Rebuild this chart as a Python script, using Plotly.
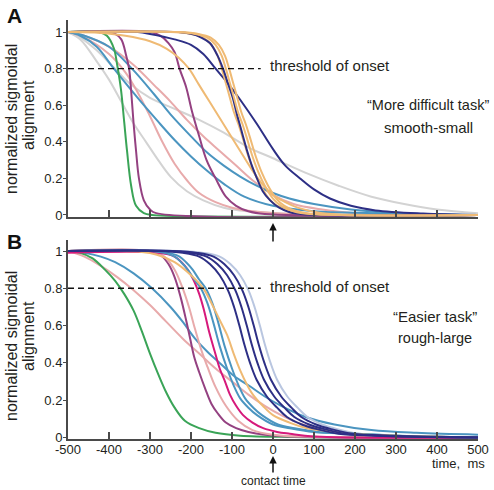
import plotly.graph_objects as go

# ---------------- data ----------------
TICK_TIMES = [-500, -400, -300, -200, -100, 0, 100, 200, 300, 400, 500]
TICK_LABELS = ["-500", "-400", "-300", "-200", "-100", "0", "100", "200", "300", "400", "500"]
Y_TICKS = [0, 0.2, 0.4, 0.6, 0.8, 1]
Y_LABELS = ["0", "0.2", "0.4", "0.6", "0.8", "1"]
THRESHOLD = 0.8
THRESHOLD_LINE_T = [-500, -30]
CONTACT_TIME = 0

# colours
GREEN = "#3aa457"
PURPLE = "#944181"
BLUE = "#4b95c0"
GRAY = "#d3d3d3"
PINK = "#e8aaab"
NAVY = "#2d2f85"
ORANGE = "#efba74"
MAGENTA = "#d6197b"
LIGHTBLUE = "#b9c6e0"

# ---- panel A : "More difficult task" smooth-small ----
A_gray1_t = [-500, -470, -430, -400, -370, -340, -310, -280, -250, -210, -170, -120, -60, 50, 500]
A_gray1_y = [1, 0.96, 0.84, 0.74, 0.62, 0.5, 0.4, 0.3, 0.21, 0.13, 0.08, 0.04, 0.02, 0.005, 0]
A_gray2_t = [-500, -470, -430, -390, -350, -300, -240, -180, -120, -60, 0, 80, 160, 240, 320, 400, 500]
A_gray2_y = [1, 0.97, 0.9, 0.81, 0.72, 0.64, 0.58, 0.52, 0.45, 0.37, 0.31, 0.23, 0.16, 0.1, 0.06, 0.03, 0.01]
A_pink1_t = [-500, -460, -400, -360, -330, -300, -270, -240, -210, -180, -140, -100, -50, 50, 500]
A_pink1_y = [1, 0.97, 0.88, 0.78, 0.67, 0.54, 0.4, 0.28, 0.19, 0.12, 0.07, 0.04, 0.02, 0.005, 0]
A_pink2_t = [-500, -460, -400, -340, -290, -250, -210, -170, -130, -90, -50, 0, 50, 120, 200, 500]
A_pink2_y = [1, 0.98, 0.92, 0.82, 0.71, 0.62, 0.52, 0.43, 0.35, 0.27, 0.19, 0.11, 0.06, 0.03, 0.01, 0]
A_blue1_t = [-500, -470, -430, -388, -330, -280, -240, -200, -160, -120, -70, 0, 100, 250, 500]
A_blue1_y = [1, 0.98, 0.92, 0.8, 0.64, 0.51, 0.41, 0.32, 0.24, 0.17, 0.1, 0.05, 0.02, 0.01, 0]
A_blue2_t = [-500, -460, -400, -344, -290, -250, -200, -160, -120, -80, -40, 0, 40, 100, 190, 300, 500]
A_blue2_y = [1, 0.98, 0.92, 0.8, 0.66, 0.55, 0.43, 0.34, 0.27, 0.21, 0.16, 0.12, 0.09, 0.06, 0.03, 0.01, 0]
A_green_t = [-500, -425, -405, -388, -380, -371, -363, -356, -346, -334, -315, -295, 500]
A_green_y = [1, 1, 0.98, 0.91, 0.82, 0.69, 0.51, 0.35, 0.16, 0.05, 0.01, 0, 0]
A_purple1_t = [-500, -410, -385, -370, -358, -351, -346, -340, -334, -327, -315, -300, -285, 500]
A_purple1_y = [1, 1, 0.99, 0.96, 0.87, 0.8, 0.68, 0.5, 0.35, 0.2, 0.08, 0.03, 0.01, 0]
A_purple2_t = [-500, -300, -275, -255, -240, -228, -212, -198, -180, -162, -140, -115, -90, -60, -20, 500]
A_purple2_y = [1, 1, 0.98, 0.94, 0.89, 0.8, 0.7, 0.57, 0.43, 0.3, 0.2, 0.1, 0.05, 0.02, 0.005, 0]
A_orange1_t = [-500, -420, -360, -300, -260, -230, -205, -180, -155, -130, -105, -80, -55, -30, 0, 30, 60, 120, 500]
A_orange1_y = [1, 0.995, 0.98, 0.95, 0.91, 0.86, 0.8, 0.71, 0.62, 0.53, 0.44, 0.35, 0.26, 0.18, 0.11, 0.07, 0.04, 0.01, 0]
A_navy1_t = [-500, -330, -300, -240, -200, -170, -140, -110, -80, -40, 0, 30, 66, 100, 139, 190, 250, 366, 500]
A_navy1_y = [1, 1, 0.99, 0.96, 0.93, 0.88, 0.8, 0.72, 0.63, 0.5, 0.36, 0.27, 0.2, 0.14, 0.09, 0.05, 0.025, 0.008, 0]
A_orange2_t = [-500, -250, -200, -170, -150, -135, -125, -115, -105, -95, -85, -75, -60, -45, -30, -10, 10, 40, 80, 500]
A_orange2_y = [1, 1, 0.99, 0.97, 0.93, 0.87, 0.8, 0.72, 0.64, 0.56, 0.5, 0.43, 0.32, 0.23, 0.16, 0.09, 0.05, 0.02, 0.005, 0]
A_navy2_t = [-500, -230, -200, -175, -154, -135, -122, -110, -98, -88, -78, -63, -50, -39, -25, -7, 15, 41, 80, 500]
A_navy2_y = [1, 1, 0.99, 0.97, 0.94, 0.87, 0.8, 0.72, 0.64, 0.55, 0.47, 0.35, 0.26, 0.2, 0.13, 0.08, 0.04, 0.015, 0.003, 0]
A_orange3_t = [-500, -240, -190, -160, -140, -125, -115, -105, -95, -85, -75, -65, -50, -35, -20, 0, 20, 50, 90, 500]
A_orange3_y = [1, 1, 0.99, 0.97, 0.93, 0.87, 0.8, 0.72, 0.64, 0.56, 0.5, 0.43, 0.32, 0.23, 0.16, 0.09, 0.05, 0.02, 0.005, 0]
A_orange4_t = [-500, -230, -182, -152, -132, -117, -107, -97, -87, -77, -67, -57, -42, -27, -12, 8, 28, 58, 100, 500]
A_orange4_y = [1, 1, 0.99, 0.97, 0.93, 0.87, 0.8, 0.72, 0.64, 0.56, 0.5, 0.43, 0.32, 0.23, 0.16, 0.09, 0.05, 0.02, 0.005, 0]

# ---- panel B : "Easier task" rough-large ----
B_pink1_t = [-500, -460, -420, -380, -340, -300, -260, -220, -180, -140, -100, -60, -20, 20, 60, 110, 200, 300, 500]
B_pink1_y = [1, 0.97, 0.92, 0.86, 0.79, 0.71, 0.62, 0.53, 0.45, 0.37, 0.3, 0.23, 0.17, 0.12, 0.08, 0.05, 0.02, 0.01, 0]
B_blue1_t = [-500, -460, -420, -385, -340, -295, -250, -220, -190, -160, -130, -95, -60, -20, 20, 80, 150, 240, 350, 500]
B_blue1_y = [1, 0.99, 0.97, 0.94, 0.88, 0.8, 0.7, 0.62, 0.53, 0.46, 0.4, 0.33, 0.28, 0.22, 0.17, 0.11, 0.07, 0.04, 0.025, 0.015]
B_green_t = [-500, -470, -440, -410, -385, -363, -340, -320, -300, -280, -260, -240, -215, -180, -140, -80, 50, 500]
B_green_y = [1, 0.99, 0.96, 0.9, 0.84, 0.77, 0.68, 0.57, 0.45, 0.34, 0.24, 0.16, 0.09, 0.05, 0.025, 0.01, 0.003, 0]
B_purple_t = [-500, -300, -275, -255, -240, -225, -212, -202, -192, -180, -165, -150, -135, -115, -90, -60, -20, 40, 500]
B_purple_y = [1, 1, 0.98, 0.93, 0.86, 0.75, 0.63, 0.53, 0.43, 0.35, 0.26, 0.18, 0.13, 0.08, 0.05, 0.03, 0.015, 0.005, 0]
B_pink2_t = [-500, -300, -265, -240, -222, -205, -190, -175, -160, -140, -115, -85, -50, 0, 80, 500]
B_pink2_y = [1, 1, 0.97, 0.9, 0.81, 0.7, 0.58, 0.47, 0.38, 0.27, 0.17, 0.09, 0.04, 0.015, 0.005, 0]
B_magenta_t = [-500, -280, -240, -215, -195, -180, -168, -155, -142, -130, -117, -105, -90, -73, -50, -24, 10, 41, 100, 500]
B_magenta_y = [0.99, 0.99, 0.97, 0.92, 0.85, 0.77, 0.68, 0.56, 0.46, 0.37, 0.3, 0.23, 0.17, 0.12, 0.08, 0.05, 0.03, 0.02, 0.005, 0]
B_blue2_t = [-500, -300, -266, -240, -224, -208, -193, -176, -160, -146, -130, -112, -96, -80, -60, -39, 0, 41, 100, 188, 300, 500]
B_blue2_y = [1, 1, 0.99, 0.97, 0.94, 0.9, 0.85, 0.8, 0.72, 0.62, 0.49, 0.37, 0.28, 0.21, 0.16, 0.12, 0.07, 0.05, 0.03, 0.02, 0.01, 0]
B_blue3_t = [-500, -288, -254, -228, -212, -196, -181, -164, -148, -134, -118, -100, -84, -68, -48, -27, 12, 53, 112, 200, 312, 500]
B_blue3_y = [1, 1, 0.99, 0.97, 0.94, 0.9, 0.85, 0.8, 0.72, 0.62, 0.49, 0.37, 0.28, 0.21, 0.16, 0.12, 0.07, 0.05, 0.03, 0.02, 0.01, 0]
B_orange_t = [-500, -320, -283, -240, -200, -170, -150, -130, -112, -96, -80, -65, -49, -25, 0, 40, 83, 130, 188, 300, 500]
B_orange_y = [1, 0.995, 0.98, 0.94, 0.87, 0.8, 0.72, 0.63, 0.55, 0.45, 0.36, 0.29, 0.23, 0.17, 0.12, 0.08, 0.05, 0.035, 0.02, 0.01, 0]
B_navy1_t = [-500, -280, -220, -180, -154, -130, -110, -95, -82, -70, -56, -40, -15, 10, 34, 70, 107, 160, 250, 500]
B_navy1_y = [1, 1, 0.99, 0.97, 0.93, 0.87, 0.79, 0.7, 0.6, 0.5, 0.4, 0.31, 0.22, 0.16, 0.11, 0.07, 0.045, 0.02, 0.01, 0]
B_navy2_t = [-500, -262, -202, -162, -136, -112, -92, -77, -64, -52, -38, -22, 3, 28, 52, 88, 125, 178, 268, 500]
B_navy2_y = [1, 1, 0.99, 0.97, 0.93, 0.87, 0.79, 0.7, 0.6, 0.5, 0.4, 0.31, 0.22, 0.16, 0.11, 0.07, 0.045, 0.02, 0.01, 0]
B_navy3_t = [-500, -245, -185, -145, -119, -95, -75, -60, -47, -35, -21, -5, 20, 45, 69, 105, 142, 195, 285, 500]
B_navy3_y = [1, 1, 0.99, 0.97, 0.93, 0.87, 0.79, 0.7, 0.6, 0.5, 0.4, 0.31, 0.22, 0.16, 0.11, 0.07, 0.045, 0.02, 0.01, 0]
B_light_t = [-500, -230, -170, -130, -104, -80, -60, -45, -32, -20, -6, 10, 35, 60, 84, 120, 157, 210, 300, 500]
B_light_y = [1, 1, 0.99, 0.97, 0.93, 0.87, 0.79, 0.7, 0.6, 0.5, 0.4, 0.31, 0.22, 0.16, 0.11, 0.07, 0.045, 0.02, 0.01, 0]

PANEL_A = [
    (A_gray1_t, A_gray1_y, GRAY), (A_gray2_t, A_gray2_y, GRAY),
    (A_pink1_t, A_pink1_y, PINK), (A_pink2_t, A_pink2_y, PINK),
    (A_blue1_t, A_blue1_y, BLUE), (A_blue2_t, A_blue2_y, BLUE),
    (A_green_t, A_green_y, GREEN),
    (A_purple1_t, A_purple1_y, PURPLE), (A_purple2_t, A_purple2_y, PURPLE),
    (A_orange1_t, A_orange1_y, ORANGE), (A_navy1_t, A_navy1_y, NAVY),
    (A_orange2_t, A_orange2_y, ORANGE), (A_navy2_t, A_navy2_y, NAVY),
    (A_orange3_t, A_orange3_y, ORANGE), (A_orange4_t, A_orange4_y, ORANGE),
]
PANEL_B = [
    (B_pink1_t, B_pink1_y, PINK), (B_blue1_t, B_blue1_y, BLUE),
    (B_green_t, B_green_y, GREEN), (B_purple_t, B_purple_y, PURPLE),
    (B_pink2_t, B_pink2_y, PINK), (B_light_t, B_light_y, LIGHTBLUE),
    (B_magenta_t, B_magenta_y, MAGENTA), (B_blue2_t, B_blue2_y, BLUE),
    (B_blue3_t, B_blue3_y, BLUE), (B_orange_t, B_orange_y, ORANGE),
    (B_navy1_t, B_navy1_y, NAVY), (B_navy2_t, B_navy2_y, NAVY),
    (B_navy3_t, B_navy3_y, NAVY),
]

# ---------------- figure ----------------
W, H = 494, 490
FONT = "Liberation Sans, Arial, Helvetica, sans-serif"
TXT = "#231f20"
AX = "#4a4a4a"


def px_x(p):
    return p / W


def px_y(p):
    return 1 - p / H


fig = go.Figure()

for xa, ya, panel in (("x", "y", PANEL_A), ("x2", "y2", PANEL_B)):
    for t, v, c in panel:
        fig.add_trace(go.Scatter(x=t, y=v, mode="lines", xaxis=xa, yaxis=ya,
                                 line=dict(color=c, width=2, shape="spline", smoothing=1.0),
                                 hoverinfo="skip", showlegend=False))
    fig.add_trace(go.Scatter(x=THRESHOLD_LINE_T, y=[THRESHOLD, THRESHOLD], mode="lines",
                             xaxis=xa, yaxis=ya,
                             line=dict(color="#111", width=1.4, dash="6px,4px"),
                             hoverinfo="skip", showlegend=False))

xcommon = dict(range=[-500, 500], tickvals=TICK_TIMES, ticks="inside", ticklen=7,
               tickwidth=1.5, tickcolor=AX, showline=True, linecolor=AX, linewidth=2,
               showgrid=False, zeroline=False, domain=[px_x(68), px_x(478)],
               automargin=False, ticklabelstandoff=-3,
               tickfont=dict(family=FONT, size=13, color=TXT))
ycommon = dict(tickvals=Y_TICKS, ticktext=Y_LABELS, ticks="outside", ticklen=3,
               tickwidth=1.2, tickcolor=AX, showline=True, linecolor=AX, linewidth=2,
               showgrid=False, zeroline=False, automargin=False, ticklabelstandoff=-2,
               tickfont=dict(family=FONT, size=13, color=TXT))

fig.update_layout(
    width=W, height=H, margin=dict(l=0, r=0, t=0, b=0),
    paper_bgcolor="white", plot_bgcolor="white", showlegend=False,
    xaxis=dict(xcommon, anchor="y", showticklabels=False),
    yaxis=dict(ycommon, anchor="x", range=[-0.011, 1.066], domain=[px_y(217), px_y(20)]),
    xaxis2=dict(xcommon, anchor="y2", ticktext=TICK_LABELS, showticklabels=True),
    yaxis2=dict(ycommon, anchor="x2", range=[-0.008, 1.059], domain=[px_y(439), px_y(240)]),
)


def note(text, x, y, size=16, xanchor="center", angle=0, bold=False):
    fig.add_annotation(text=f"<b>{text}</b>" if bold else text, xref="paper", yref="paper",
                       x=px_x(x), y=px_y(y), xanchor=xanchor, yanchor="middle",
                       showarrow=False, textangle=angle,
                       font=dict(family=FONT, size=size, color="#111" if bold else TXT))


note("A", 14, 15, size=21, bold=True)
note("B", 14, 242, size=21, bold=True)
note("normalized sigmoidal", 11, 119, size=16, angle=-90)
note("alignment", 28, 115, size=16, angle=-90)
note("normalized sigmoidal", 11, 346, size=16, angle=-90)
note("alignment", 28, 336, size=16, angle=-90)
note("threshold of onset", 268, 65, size=15, xanchor="left")
note("threshold of onset", 268, 286, size=15, xanchor="left")
note("\u201cMore difficult task\u201d", 428, 105, size=14.5)
note("smooth-small", 428, 127, size=15)
note("\u201cEasier task\u201d", 435, 316, size=15)
note("rough-large", 435, 338, size=14.5)
note("time,\u00a0\u00a0ms", 487, 463, size=13, xanchor="right")

# contact-time arrows
fig.add_annotation(x=CONTACT_TIME, xref="x", y=px_y(223), yref="paper", text="",
                   showarrow=True, ax=0, ay=20, arrowhead=2, arrowsize=1, arrowwidth=1.5,
                   arrowcolor="#111")
fig.add_annotation(x=CONTACT_TIME, xref="x2", y=px_y(456), yref="paper", text="contact time",
                   showarrow=True, ax=0, ay=25, arrowhead=2, arrowsize=1, arrowwidth=1.5,
                   arrowcolor="#111", font=dict(family=FONT, size=12, color=TXT))

# the page's default 8 px body margin would push the figure out of the window
fig.write_html("out.html", config={"displayModeBar": False},
               post_script="document.body.style.margin='0px';")
